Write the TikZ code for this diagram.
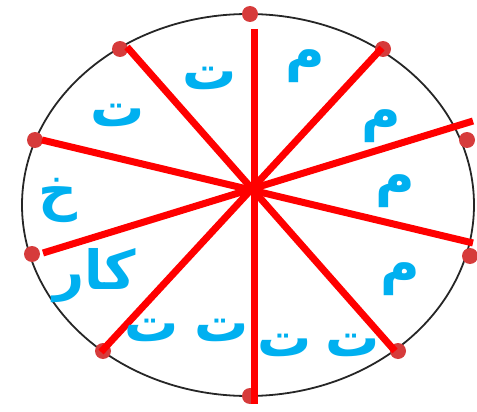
\documentclass[tikz,border=0pt]{standalone}
\usepackage{fontspec}
\newfontfamily\arabicfont[Script=Arabic]{DejaVu Sans}
\TeXXeTstate=1
\usepackage{xcolor}
\usetikzlibrary{positioning}
\definecolor{spokered}{HTML}{FF0000}
\definecolor{dotred}{HTML}{D63B3B}
\definecolor{lettercyan}{HTML}{00B0F0}
\tikzset{
  rim/.style={draw=black!85,line width=1.8pt},
  spoke/.style={draw=spokered,line width=7pt},
  rimdot/.style={circle,fill=dotred,minimum size=16pt,inner sep=0pt},
  letter/.style={text=lettercyan,inner sep=0pt,
                 font=\arabicfont\bfseries\fontsize{54}{60}\selectfont}
}

\begin{document}
\begin{tikzpicture}[x=1pt,y=-1pt]
  \useasboundingbox (0,0) rectangle (477,412);
  % rim
  \draw[rim] (248,205) ellipse [x radius=226,y radius=191];
  \foreach \name/\pos in {d1/{(250,14)},d2/{(120,49)},d3/{(383,49)},d4/{(35,140)},d5/{(467,140)},
                          d6/{(32,254)},d7/{(470,256)},d8/{(103,351)},d9/{(398,351)},d10/{(250,396)}}{
    \node[rimdot] (\name) at \pos {};
  }
  % spokes
  \coordinate (hub) at (253,190);
  \coordinate (v1) at (254,29);  \coordinate (v2) at (254,404);
  \coordinate (a1) at (127,47);  \coordinate (a2) at (395,351);
  \coordinate (b1) at (382,48);  \coordinate (b2) at (101,352);
  \coordinate (c1) at (42,140);  \coordinate (c2) at (473,243);
  \coordinate (e1) at (473,121); \coordinate (e2) at (43,253);
  \foreach \s in {v,a,b,c,e}{\draw[spoke] (\s1)--(\s2);}
  % letters
  \node[letter] (t1) at (210,78) {ت};
  \node[letter] (m1) at (305,66) {م};
  \node[letter] (t2) at (118,115) {ت};
  \node[letter] (m2) at (381,126) {م};
  \node[letter] (kh) at (58,200) {خ};
  \node[letter] (m3) at (395,191) {م};
  \node[letter] (kar) at (95,276) {\beginR كار\endR};
  \node[letter] (m4) at (400,279) {م};
  \node[letter] (t3) at (152,330) {ت};
  \node[letter] (t4) at (222,330) {ت};
  \node[letter] (t5) at (285,345) {ت};
  \node[letter] (t6) at (353,345) {ت};
\end{tikzpicture}
\end{document}
